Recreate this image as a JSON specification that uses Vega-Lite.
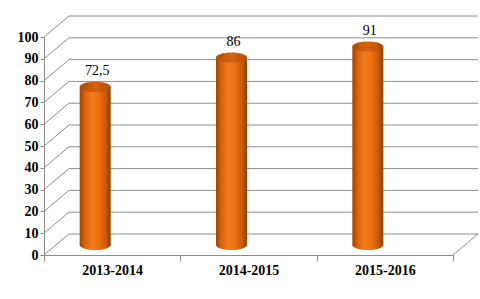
{
  "$schema": "https://vega.github.io/schema/vega-lite/v6.json",
  "width": 409,
  "height": 218,
  "autosize": {"type": "none"},
  "padding": {"left": 44, "top": 37, "right": 27, "bottom": 44},
  "background": "white",
  "config": {
    "view": {"stroke": null},
    "font": "Liberation Serif",
    "axis": {
      "title": null, "grid": false, "domainColor": "#8c8c8c", "tickColor": "#8c8c8c",
      "labelFont": "Liberation Serif", "labelFontSize": 14, "labelFontWeight": "bold", "labelColor": "black"
    },
    "axisX": {"labelAngle": 0, "tickBand": "extent", "tickSize": 6, "labelPadding": 2},
    "axisY": {"tickSize": 4, "labelPadding": 2, "labelOverlap": false}
  },
  "datasets": {
    "bars": [
      {"year": "2013-2014", "value": 72.5, "label": "72,5"},
      {"year": "2014-2015", "value": 86, "label": "86"},
      {"year": "2015-2016", "value": 91, "label": "91"}
    ],
    "ticks": [
      {"v": 0}, {"v": 10}, {"v": 20}, {"v": 30}, {"v": 40}, {"v": 50},
      {"v": 60}, {"v": 70}, {"v": 80}, {"v": 90}, {"v": 100}
    ]
  },
  "layer": [
    {
      "data": {"name": "ticks"},
      "mark": {"type": "rule", "color": "#8c8c8c", "strokeWidth": 1, "xOffset": 25, "x2Offset": 25, "yOffset": -21},
      "encoding": {
        "x": {
          "datum": "2013-2014", "type": "nominal", "bandPosition": 0, "title": null,
          "scale": {"domain": ["2013-2014", "2014-2015", "2015-2016"], "paddingInner": 0, "paddingOuter": 0}
        },
        "x2": {"datum": "2015-2016", "bandPosition": 1},
        "y": {
          "field": "v", "type": "quantitative", "title": null,
          "scale": {"domain": [0, 100], "nice": false},
          "axis": {"values": [0, 10, 20, 30, 40, 50, 60, 70, 80, 90, 100]}
        }
      }
    },
    {
      "data": {"name": "ticks"},
      "mark": {"type": "rule", "color": "#8c8c8c", "strokeWidth": 1, "x2Offset": 25, "y2Offset": -21},
      "encoding": {
        "x": {"datum": "2013-2014", "type": "nominal", "bandPosition": 0, "title": null},
        "x2": {"datum": "2013-2014", "bandPosition": 0},
        "y": {"field": "v", "type": "quantitative", "title": null, "axis": {"values": [0, 10, 20, 30, 40, 50, 60, 70, 80, 90, 100]}},
        "y2": {"field": "v"}
      }
    },
    {
      "data": {"values": [{}]},
      "mark": {"type": "rule", "color": "#8c8c8c", "strokeWidth": 1, "x2Offset": 25, "y2Offset": -21},
      "encoding": {
        "x": {"datum": "2015-2016", "type": "nominal", "bandPosition": 1, "title": null},
        "x2": {"datum": "2015-2016", "bandPosition": 1},
        "y": {"datum": 0, "type": "quantitative", "title": null, "axis": {"values": [0, 10, 20, 30, 40, 50, 60, 70, 80, 90, 100]}},
        "y2": {"datum": 0}
      }
    },
    {
      "data": {"name": "bars"},
      "mark": {
        "type": "bar",
        "width": {"band": 0.227},
        "xOffset": -17,
        "yOffset": -10,
        "y2Offset": -10,
        "color": {
          "gradient": "linear", "x1": 0, "x2": 1, "y1": 0, "y2": 0,
          "stops": [
            {"offset": 0, "color": "#9c4200"},
            {"offset": 0.15, "color": "#d4600c"},
            {"offset": 0.4, "color": "#f47a1c"},
            {"offset": 0.6, "color": "#ee7214"},
            {"offset": 0.85, "color": "#c85808"},
            {"offset": 1, "color": "#8e3c00"}
          ]
        }
      },
      "encoding": {
        "x": {"field": "year", "type": "nominal", "title": null},
        "y": {"field": "value", "type": "quantitative", "title": null, "axis": {"values": [0, 10, 20, 30, 40, 50, 60, 70, 80, 90, 100]}}
      }
    },
    {
      "data": {"name": "bars"},
      "mark": {
        "type": "point", "filled": true, "opacity": 1, "size": 961, "strokeWidth": 0,
        "shape": "M-1,0A1,0.33,0,1,0,1,0A1,0.33,0,1,0,-1,0Z",
        "xOffset": -17, "yOffset": -10,
        "color": {
          "gradient": "linear", "x1": 0, "x2": 1, "y1": 0, "y2": 0,
          "stops": [
            {"offset": 0, "color": "#9c4200"},
            {"offset": 0.15, "color": "#d4600c"},
            {"offset": 0.4, "color": "#f47a1c"},
            {"offset": 0.6, "color": "#ee7214"},
            {"offset": 0.85, "color": "#c85808"},
            {"offset": 1, "color": "#8e3c00"}
          ]
        }
      },
      "encoding": {
        "x": {"field": "year", "type": "nominal", "title": null},
        "y": {"datum": 0, "type": "quantitative", "title": null, "axis": {"values": [0, 10, 20, 30, 40, 50, 60, 70, 80, 90, 100]}}
      }
    },
    {
      "data": {"name": "bars"},
      "mark": {
        "type": "point", "filled": true, "opacity": 1, "size": 961, "strokeWidth": 0,
        "shape": "M-1,0A1,0.33,0,1,0,1,0A1,0.33,0,1,0,-1,0Z",
        "xOffset": -17, "yOffset": -10,
        "color": {
          "gradient": "linear", "x1": 0, "x2": 1, "y1": 0, "y2": 0,
          "stops": [
            {"offset": 0, "color": "#b04c04"},
            {"offset": 0.5, "color": "#d8620e"},
            {"offset": 1, "color": "#b04c04"}
          ]
        }
      },
      "encoding": {
        "x": {"field": "year", "type": "nominal", "title": null},
        "y": {"field": "value", "type": "quantitative", "title": null, "axis": {"values": [0, 10, 20, 30, 40, 50, 60, 70, 80, 90, 100]}}
      }
    },
    {
      "data": {"name": "bars"},
      "mark": {
        "type": "text", "font": "Liberation Serif", "fontSize": 14, "color": "black",
        "baseline": "middle", "align": "center", "xOffset": -15, "yOffset": -26
      },
      "encoding": {
        "x": {"field": "year", "type": "nominal", "title": null},
        "y": {"field": "value", "type": "quantitative", "title": null, "axis": {"values": [0, 10, 20, 30, 40, 50, 60, 70, 80, 90, 100]}},
        "text": {"field": "label"}
      }
    }
  ]
}
